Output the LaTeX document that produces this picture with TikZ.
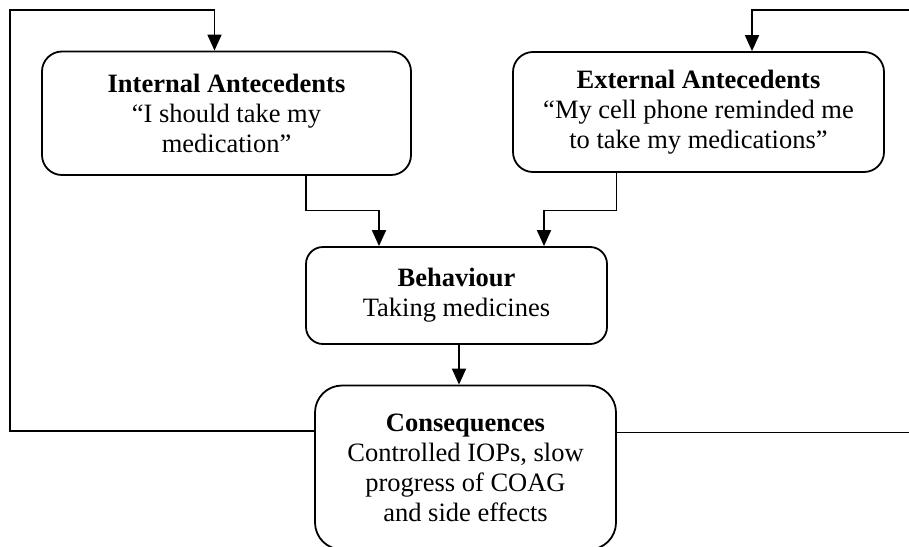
\documentclass[tikz,border=0pt]{standalone}
\usepackage{fontspec}
\setmainfont{Liberation Serif}
\usetikzlibrary{arrows.meta,calc}
\tikzset{
  box/.style={draw, line width=1.8pt, align=center, inner sep=0pt,
    font=\fontsize{26.5}{30}\selectfont},
  arr/.style={line width=1.8pt, -{Triangle[length=16pt,width=14pt]}}
}
\begin{document}
\begin{tikzpicture}[x=1pt,y=-1pt]
\useasboundingbox (0,0) rectangle (909,546);
\clip (0,0) rectangle (909,546);
\node[box, rounded corners=20pt, minimum width=369pt, minimum height=123.5pt] (int) at (226.5,113.25)
  {\textbf{Internal Antecedents}\\“I should take my\\medication”};
\node[box, rounded corners=20pt, minimum width=371pt, minimum height=120pt] (ext) at (698.5,112)
  {\textbf{External Antecedents}\\“My cell phone reminded me\\to take my medications”};
\node[box, rounded corners=17pt, minimum width=301pt, minimum height=97pt] (beh) at (456.5,295.5)
  {\textbf{Behaviour}\\Taking medicines};
\node[box, rounded corners=27pt, minimum width=301pt, minimum height=164pt] (con) at (465.5,467.5)
  {\textbf{Consequences}\\Controlled IOPs, slow\\progress of COAG\\and side effects};
% helper coordinates
\coordinate (iX) at (306,0);
\coordinate (iY) at (379,210.5);
\coordinate (eX) at (616.5,0);
\coordinate (eY) at (544,210.5);
\coordinate (cX) at (459,0);
\coordinate (lB) at (10,431);
\coordinate (lT) at (10,10);
\coordinate (iT) at (214.5,10);
\coordinate (rB) at (912,432.5);
\coordinate (rT) at (912,10);
\coordinate (eT) at (752,10);
% connectors
\draw[arr] (int.south -| iX) -- (iX |- iY) -- (iY) -- (beh.north -| iY);
\draw[arr] (ext.south -| eX) -- (eX |- eY) -- (eY) -- (beh.north -| eY);
\draw[arr] (beh.south -| cX) -- (con.north -| cX);
\draw[arr] (con.west |- lB) -- (lB) -- (lT) -- (iT) -- (int.north -| iT);
\draw[arr] (con.east |- rB) -- (rB) -- (rT) -- (eT) -- (ext.north -| eT);
\end{tikzpicture}
\end{document}
